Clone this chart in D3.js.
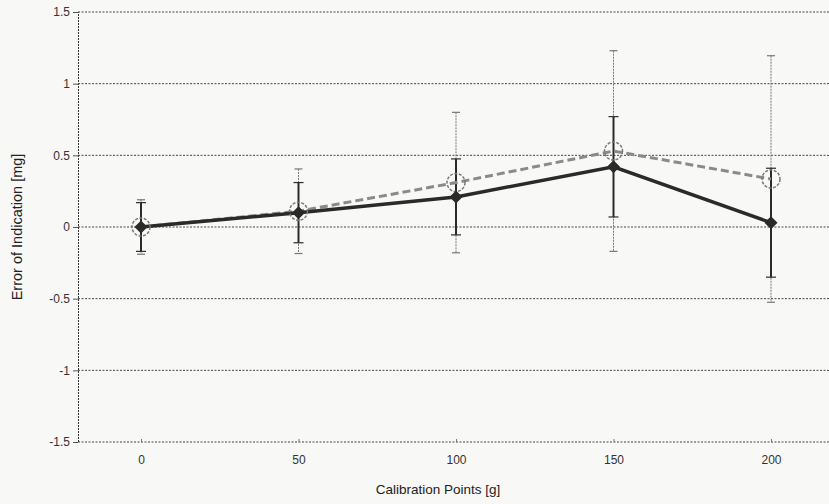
<!DOCTYPE html>
<html lang="en">
<head>
<meta charset="UTF-8">
<title>Error of Indication</title>
<script src="https://cdn.jsdelivr.net/npm/d3@7"></script>
<style>
    html, body { margin: 0; padding: 0; background: #f8f8f6; }
    svg { display: block; }
    .grid line { stroke: #444; stroke-dasharray: 2,1.5; stroke-width: 1; }
    .axis-title { font-family: "Liberation Sans", Arial, sans-serif; font-size: 13.5px; fill: #222; }
</style>
</head>
<body>
<svg id="chart" width="829" height="504"></svg>
<script>
    // calibration points [g]
    var points = [0, 50, 100, 150, 200];
    // series 1 (solid, diamonds)
    var errA = [0.0, 0.10, 0.21, 0.42, 0.03];
    var uncA = [0.17, 0.21, 0.265, 0.35, 0.38];
    // series 2 (dashed, open circles)
    var errB = [0.0, 0.11, 0.31, 0.53, 0.335];
    var uncB = [0.19, 0.295, 0.49, 0.70, 0.86];
    var yTicks = [-1.5, -1, -0.5, 0, 0.5, 1, 1.5];

    var svg = d3.select("#chart"),
        margin = {top: 12, left: 78, bottom: 62};
    var height = +svg.attr("height") - margin.top - margin.bottom;

    var x = d3.scaleLinear().domain([-20, 220]).range([78, 834]);
    var y = d3.scaleLinear().domain([-1.5, 1.5]).range([margin.top + height, margin.top]);

    // horizontal gridlines (dotted)
    svg.append("g")
        .attr("class", "grid")
        .selectAll("line")
        .data(yTicks)
        .enter().append("line")
        .attr("x1", x(-20)).attr("x2", 829)
        .attr("y1", d => y(d)).attr("y2", d => y(d));

    // left axis
    var yAxis = svg.append("g")
        .attr("transform", "translate(" + x(-20) + ",0)")
        .call(d3.axisLeft(y).tickValues(yTicks).tickSize(5).tickPadding(3)
            .tickFormat(d => String(d)));
    yAxis.attr("font-family", "Liberation Sans, Arial, sans-serif").attr("font-size", 12);
    yAxis.select(".domain").attr("stroke", "#333").attr("stroke-dasharray", "2,1");
    yAxis.selectAll(".tick line").attr("stroke", "#555");
    yAxis.selectAll(".tick text").attr("fill", "#333");

    // bottom axis
    var xAxis = svg.append("g")
        .attr("transform", "translate(0," + y(-1.5) + ")")
        .call(d3.axisBottom(x).tickValues(points).tickSize(-3).tickPadding(13)
            .tickFormat(d => String(d)));
    xAxis.attr("font-family", "Liberation Sans, Arial, sans-serif").attr("font-size", 12);
    xAxis.select(".domain").remove();
    xAxis.selectAll(".tick line").attr("stroke", "#777");
    xAxis.selectAll(".tick text").attr("fill", "#333");

    // axis titles
    svg.append("text")
        .attr("class", "axis-title")
        .style("font-size", "14.5px")
        .attr("transform", "translate(17," + y(0) + ") rotate(-90)")
        .attr("text-anchor", "middle")
        .attr("dy", "0.35em")
        .text("Error of Indication [mg]");

    svg.append("text")
        .attr("class", "axis-title")
        .attr("x", 438).attr("y", 494)
        .attr("text-anchor", "middle")
        .text("Calibration Points [g]");

    var dataA = points.map((p, i) => ({x: p, v: errA[i], u: uncA[i]}));
    var dataB = points.map((p, i) => ({x: p, v: errB[i], u: uncB[i]}));

    function errorBars(data, color, width, dash, cap) {
        var g = svg.append("g");
        var eb = g.selectAll("g").data(data).enter().append("g");
        eb.append("line")
            .attr("x1", d => x(d.x)).attr("x2", d => x(d.x))
            .attr("y1", d => y(d.v + d.u)).attr("y2", d => y(d.v - d.u))
            .attr("stroke", color).attr("stroke-width", width)
            .attr("stroke-dasharray", dash);
        [1, -1].forEach(s => {
            eb.append("line")
                .attr("x1", d => x(d.x) - cap).attr("x2", d => x(d.x) + cap)
                .attr("y1", d => y(d.v + s * d.u)).attr("y2", d => y(d.v + s * d.u))
                .attr("stroke", color).attr("stroke-width", 1.2);
        });
    }

    // thin grey error bars for series 2, dark ones for series 1
    errorBars(dataB, "#777", 1, "2,1", 4);
    errorBars(dataA, "#2b2b2b", 2, null, 5);

    var line = d3.line().x(d => x(d.x)).y(d => y(d.v));

    svg.append("path")
        .datum(dataB)
        .attr("fill", "none")
        .attr("stroke", "#8a8a8a")
        .attr("stroke-width", 3)
        .attr("stroke-dasharray", "8,4")
        .attr("d", line);

    svg.append("path")
        .datum(dataA)
        .attr("fill", "none")
        .attr("stroke", "#2a2a2a")
        .attr("stroke-width", 3.5)
        .attr("d", line);

    // open circles
    svg.append("g").selectAll("circle")
        .data(dataB)
        .enter().append("circle")
        .attr("cx", d => x(d.x)).attr("cy", d => y(d.v))
        .attr("r", 9)
        .attr("fill", "none")
        .attr("stroke", "#777")
        .attr("stroke-width", 1.5)
        .attr("stroke-dasharray", "3,1.5");

    // diamonds
    svg.append("g").selectAll("path")
        .data(dataA)
        .enter().append("path")
        .attr("transform", d => "translate(" + x(d.x) + "," + y(d.v) + ") rotate(45)")
        .attr("d", d3.symbol().type(d3.symbolSquare).size(85))
        .attr("fill", "#2a2a2a");
</script>
</body>
</html>
